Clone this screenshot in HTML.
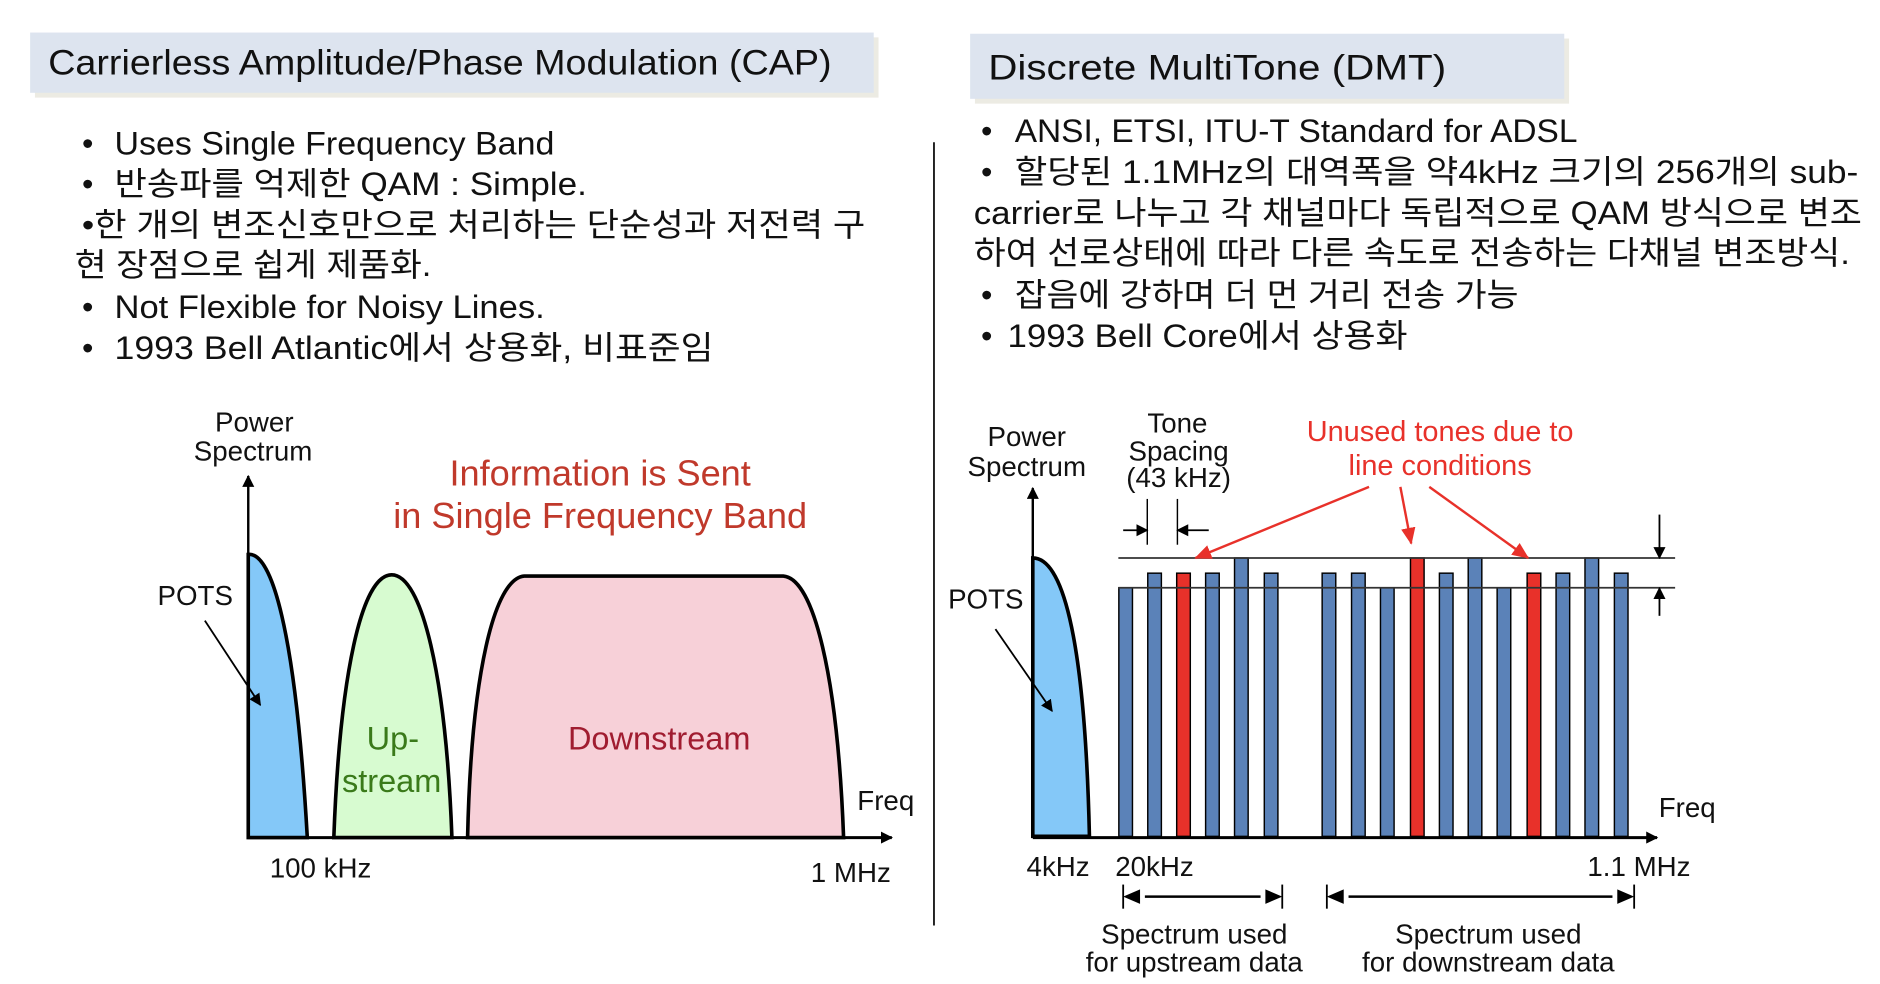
<!DOCTYPE html>
<html><head><meta charset="utf-8"><style>
html,body{margin:0;padding:0;background:#fff;}
svg{display:block;}
text{font-family:"Liberation Sans","Noto Sans CJK KR",sans-serif;}
</style></head><body>
<svg width="1880" height="984" viewBox="0 0 1560 816.5" xmlns="http://www.w3.org/2000/svg">
<defs>
<marker id="ab" markerWidth="10" markerHeight="10" refX="9" refY="5" orient="auto" markerUnits="userSpaceOnUse"><path d="M0,0 L10,5 L0,10 z" fill="#000"/></marker>
<marker id="ar" markerWidth="14" markerHeight="12" refX="13" refY="6" orient="auto" markerUnits="userSpaceOnUse"><path d="M0,0 L14,6 L0,12 z" fill="#e8312a"/></marker>
</defs>
<!-- title boxes -->
<rect x="29" y="31" width="700" height="50" fill="#ecebe3"/>
<rect x="25" y="27" width="700" height="50" fill="#dde4ef"/>
<text x="40" y="62" font-size="29" fill="#111" textLength="650" lengthAdjust="spacingAndGlyphs">Carrierless Amplitude/Phase Modulation (CAP)</text>
<rect x="809" y="32" width="493" height="54" fill="#ecebe3"/>
<rect x="805" y="28" width="493" height="54" fill="#dde4ef"/>
<text x="820" y="66" font-size="29" fill="#111" textLength="380" lengthAdjust="spacingAndGlyphs">Discrete MultiTone (DMT)</text>
<!-- left bullets -->
<g font-size="27" fill="#111">
<text x="68" y="128">•</text><text x="95" y="128" textLength="365" lengthAdjust="spacingAndGlyphs">Uses Single Frequency Band</text>
<text x="68" y="162">•</text><text x="95" y="162" textLength="392" lengthAdjust="spacingAndGlyphs">반송파를 억제한 QAM : Simple.</text>
<text x="68" y="196" textLength="650" lengthAdjust="spacingAndGlyphs">•한 개의 변조신호만으로 처리하는 단순성과 저전력 구</text>
<text x="62" y="229" textLength="296" lengthAdjust="spacingAndGlyphs">현 장점으로 쉽게 제품화.</text>
<text x="68" y="264">•</text><text x="95" y="264" textLength="357" lengthAdjust="spacingAndGlyphs">Not Flexible for Noisy Lines.</text>
<text x="68" y="298">•</text><text x="95" y="298" textLength="497" lengthAdjust="spacingAndGlyphs">1993 Bell Atlantic에서 상용화, 비표준임</text>
</g>
<!-- right bullets -->
<g font-size="27" fill="#111">
<text x="814" y="118">•</text><text x="842" y="118" textLength="467" lengthAdjust="spacingAndGlyphs">ANSI, ETSI, ITU-T Standard for ADSL</text>
<text x="814" y="152">•</text><text x="842" y="152" textLength="700" lengthAdjust="spacingAndGlyphs">할당된 1.1MHz의 대역폭을 약4kHz 크기의 256개의 sub-</text>
<text x="808" y="186" textLength="737" lengthAdjust="spacingAndGlyphs">carrier로 나누고 각 채널마다 독립적으로 QAM 방식으로 변조</text>
<text x="808" y="219" textLength="727" lengthAdjust="spacingAndGlyphs">하여 선로상태에 따라 다른 속도로 전송하는 다채널 변조방식.</text>
<text x="814" y="254">•</text><text x="842" y="254" textLength="418" lengthAdjust="spacingAndGlyphs">잡음에 강하며 더 먼 거리 전송 가능</text>
<text x="814" y="288">•</text><text x="836" y="288" textLength="332" lengthAdjust="spacingAndGlyphs">1993 Bell Core에서 상용화</text>
</g>
<!-- divider -->
<line x1="775" y1="118" x2="775" y2="768" stroke="#111" stroke-width="1.5"/>

<!-- LEFT CHART -->
<path d="M206,695 L206,460 C225,458 245,520 255,695 Z" fill="#84c8f8" stroke="#000" stroke-width="3"/>
<path d="M277,695 C282,560 300,477 325,477 C350,477 370,560 375,695 Z" fill="#d7fbd0" stroke="#000" stroke-width="3"/>
<path d="M388,695 C391,560 410,480 435,478 L650,478 C675,480 695,560 700,695 Z" fill="#f7d0d8" stroke="#000" stroke-width="3"/>
<line x1="206" y1="695" x2="206" y2="395" stroke="#000" stroke-width="2" marker-end="url(#ab)"/>
<line x1="206" y1="695" x2="740" y2="695" stroke="#000" stroke-width="2.5" marker-end="url(#ab)"/>
<line x1="170" y1="515" x2="216" y2="585" stroke="#000" stroke-width="1.5" marker-end="url(#ab)"/>
<g font-size="23" fill="#111" text-anchor="middle">
<text x="211" y="358">Power</text><text x="210" y="382">Spectrum</text>
<text x="162" y="502">POTS</text>
<text x="735" y="672">Freq</text>
<text x="266" y="728">100 kHz</text>
<text x="706" y="732">1 MHz</text>
</g>
<g font-size="30" fill="#c0392b" text-anchor="middle">
<text x="498" y="403">Information is Sent</text>
<text x="498" y="438">in Single Frequency Band</text>
</g>
<g font-size="27" fill="#3a7a1a" text-anchor="middle"><text x="326" y="622">Up-</text><text x="325" y="657">stream</text></g>
<text x="547" y="622" font-size="27" fill="#a01c30" text-anchor="middle">Downstream</text>

<!-- RIGHT CHART -->
<path d="M857,694 L857,463 C880,463 900,520 904,694 Z" fill="#84c8f8" stroke="#000" stroke-width="3"/>
<g stroke="#000" stroke-width="1.2">
<rect x="928.4" y="487.7" width="11.3" height="206.3" fill="#5b82b8"/>
<rect x="952.4" y="475.6" width="11.3" height="218.4" fill="#5b82b8"/>
<rect x="976.4" y="475.6" width="11.3" height="218.4" fill="#e8312a"/>
<rect x="1000.4" y="475.6" width="11.3" height="218.4" fill="#5b82b8"/>
<rect x="1024.4" y="463" width="11.3" height="231" fill="#5b82b8"/>
<rect x="1049.1" y="475.6" width="11.3" height="218.4" fill="#5b82b8"/>
<rect x="1097.1" y="475.6" width="11.3" height="218.4" fill="#5b82b8"/>
<rect x="1121.5" y="475.6" width="11.3" height="218.4" fill="#5b82b8"/>
<rect x="1145.5" y="487.7" width="11.3" height="206.3" fill="#5b82b8"/>
<rect x="1170.4" y="463" width="11.3" height="231" fill="#e8312a"/>
<rect x="1194.4" y="475.6" width="11.3" height="218.4" fill="#5b82b8"/>
<rect x="1218.3" y="463" width="11.3" height="231" fill="#5b82b8"/>
<rect x="1242.3" y="487.7" width="11.3" height="206.3" fill="#5b82b8"/>
<rect x="1267.2" y="475.6" width="11.3" height="218.4" fill="#e8312a"/>
<rect x="1291.2" y="475.6" width="11.3" height="218.4" fill="#5b82b8"/>
<rect x="1315.2" y="463" width="11.3" height="231" fill="#5b82b8"/>
<rect x="1339.6" y="475.6" width="11.3" height="218.4" fill="#5b82b8"/>
</g>
<line x1="928" y1="463" x2="1390" y2="463" stroke="#333" stroke-width="1.5"/>
<line x1="928" y1="487.7" x2="1390" y2="487.7" stroke="#333" stroke-width="1.5"/>
<line x1="857" y1="695" x2="857" y2="405" stroke="#000" stroke-width="2" marker-end="url(#ab)"/>
<line x1="857" y1="695" x2="1375" y2="695" stroke="#000" stroke-width="2.5" marker-end="url(#ab)"/>
<line x1="1377" y1="427" x2="1377" y2="463" stroke="#000" stroke-width="1.5" marker-end="url(#ab)"/>
<line x1="1377" y1="511" x2="1377" y2="488" stroke="#000" stroke-width="1.5" marker-end="url(#ab)"/>
<line x1="952" y1="414" x2="952" y2="452" stroke="#000" stroke-width="1.2"/>
<line x1="977" y1="414" x2="977" y2="452" stroke="#000" stroke-width="1.2"/>
<line x1="932" y1="440" x2="952" y2="440" stroke="#000" stroke-width="1.5" marker-end="url(#ab)"/>
<line x1="1003" y1="440" x2="977" y2="440" stroke="#000" stroke-width="1.5" marker-end="url(#ab)"/>
<line x1="826" y1="522" x2="873" y2="590" stroke="#000" stroke-width="1.5" marker-end="url(#ab)"/>
<g stroke="#e8312a" stroke-width="2">
<line x1="1136" y1="404" x2="992" y2="463" marker-end="url(#ar)"/>
<line x1="1162" y1="404" x2="1171" y2="451" marker-end="url(#ar)"/>
<line x1="1186" y1="404" x2="1268" y2="463" marker-end="url(#ar)"/>
</g>
<!-- dimension arrows -->
<g stroke="#000" stroke-width="1.5">
<line x1="932" y1="734" x2="932" y2="754"/><line x1="1064" y1="734" x2="1064" y2="754"/>
<line x1="1101" y1="734" x2="1101" y2="754"/><line x1="1356" y1="734" x2="1356" y2="754"/>
<line x1="950" y1="744" x2="1046" y2="744" stroke-width="2"/>
<line x1="1119" y1="744" x2="1338" y2="744" stroke-width="2"/>
</g>
<path d="M932,744 L946,738 L946,750 z M1064,744 L1050,738 L1050,750 z M1101,744 L1115,738 L1115,750 z M1356,744 L1342,738 L1342,750 z" fill="#000"/>
<g font-size="23" fill="#111" text-anchor="middle">
<text x="852" y="370">Power</text><text x="852" y="395">Spectrum</text>
<text x="977" y="359">Tone</text><text x="978" y="382">Spacing</text><text x="978" y="404">(43 kHz)</text>
<text x="818" y="505">POTS</text>
<text x="1400" y="678">Freq</text>
<text x="878" y="727">4kHz</text>
<text x="958" y="727">20kHz</text>
<text x="1360" y="727">1.1 MHz</text>
<text x="991" y="783">Spectrum used</text><text x="991" y="806">for upstream data</text>
<text x="1235" y="783">Spectrum used</text><text x="1235" y="806">for downstream data</text>
</g>
<g font-size="24" fill="#e8312a" text-anchor="middle">
<text x="1195" y="366">Unused tones due to</text><text x="1195" y="394">line conditions</text>
</g>
</svg>
</body></html>
